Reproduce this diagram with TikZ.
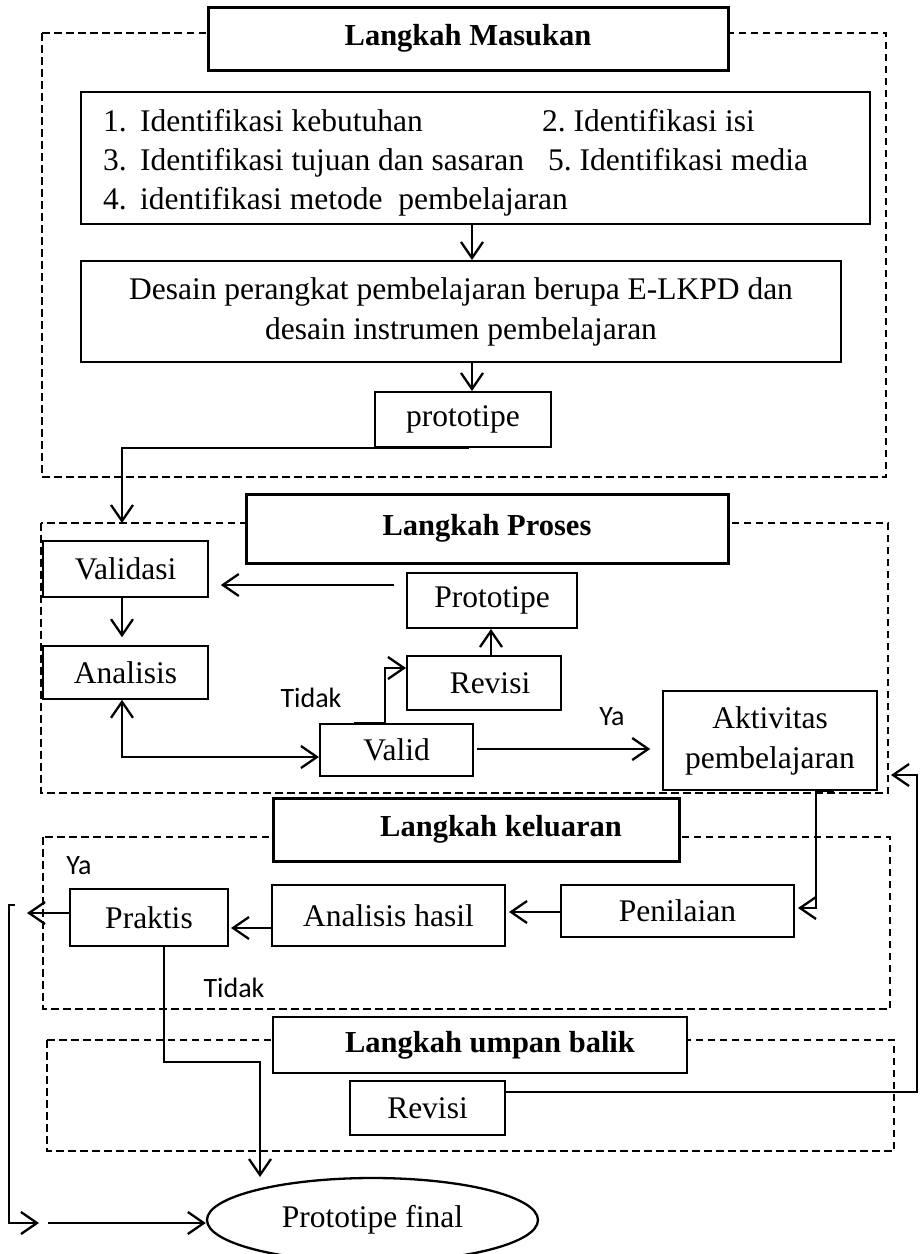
\documentclass[tikz,border=0pt]{standalone}
\usepackage{fontspec}
\setmainfont{Liberation Serif}
\newfontfamily\labelfont{Carlito}
\usetikzlibrary{arrows.meta,shapes.geometric,calc}
\frenchspacing
\tikzset{
  box/.style={draw, line width=2pt, inner sep=0pt, fill=white, align=center},
  titlebox/.style={draw, line width=3pt, inner sep=0pt, fill=white, font=\fontsize{30.5}{40}\selectfont\bfseries},
  frame/.style={draw, line width=2pt, dash pattern=on 7.5pt off 4.5pt},
  tip/.style={Straight Barb[length=16pt,width=22pt,line width=2.3pt]},
  arr/.style={line width=2.3pt, -{Straight Barb[length=16pt,width=22pt,line width=2.3pt]}},
  arrboth/.style={line width=2.3pt, {Straight Barb[length=16pt,width=22pt,line width=2.3pt]}-{Straight Barb[length=16pt,width=22pt,line width=2.3pt]}},
  lab/.style={font=\labelfont\fontsize{28}{32}\selectfont, inner sep=0pt},
  listtxt/.style={anchor=base west, inner sep=0pt},
}
\begin{document}
\begin{tikzpicture}[x=1pt,y=-1pt, font=\fontsize{31.5}{40}\selectfont]
\useasboundingbox (0,0) rectangle (921,1254);
\begin{scope}
\clip (0,0) rectangle (921,1254);

% ---------- Langkah Masukan ----------
\draw[frame] (42,33) rectangle (886,477);
\node[titlebox, minimum width=520, minimum height=63] (tM) at (468,38.5) {Langkah Masukan};
\node[box, minimum width=789, minimum height=132] (list) at (475.5,158) {};
\node[listtxt] (l1) at (103,131) {\makebox[37pt][l]{1.}Identifikasi kebutuhan};
\node[listtxt] (l2) at (103,170) {\makebox[37pt][l]{3.}Identifikasi tujuan dan sasaran};
\node[listtxt] (l3) at (103,209) {\makebox[37pt][l]{4.}identifikasi metode\ \ pembelajaran};
\node[listtxt] (l4) at (542,131) {2. Identifikasi isi};
\node[listtxt] (l5) at (548,170) {5. Identifikasi media};
\node[box, minimum width=760, minimum height=101] (desain) at (461,311.5)
  {Desain perangkat pembelajaran berupa E-LKPD dan\\desain instrumen pembelajaran};
\node[box, minimum width=176, minimum height=55] (proto1) at (463,419.5) {prototipe};

\coordinate (cx1) at (472,0);
\draw[arr] (list.south -| cx1) -- (desain.north -| cx1);
\draw[arr] (desain.south -| cx1) -- (proto1.north -| cx1);

% ---------- Langkah Proses ----------
\draw[frame] (41,523) rectangle (888,793);
\node[titlebox, minimum width=482, minimum height=69] (tP) at (487,528.5) {\raisebox{5pt}{Langkah Proses}};
\coordinate (pin) at (122,523);
\draw[arr] ($(proto1.south west)+(95,0)$) -- (proto1.south west) -- (pin |- proto1.south) -- (pin);

\node[box, line width=1.6pt, minimum width=165, minimum height=56] (validasi) at (125.5,569) {Validasi};
\node[box, line width=1.6pt, minimum width=165, minimum height=53] (analisis) at (125.5,672.5) {Analisis};
\node[box, minimum width=170, minimum height=55] (prototipe) at (492,600.5) {Prototipe};
\node[box, minimum width=154, minimum height=54] (revisi) at (484,683) {\hspace*{12pt}Revisi};
\node[box, minimum width=153, minimum height=52] (valid) at (396.5,750) {Valid};
\node[box, line width=1.5pt, minimum width=214, minimum height=99] (akt) at (770,740.5) {Aktivitas\\pembelajaran};

\coordinate (pv) at (394,585);
\draw[arr] (pv) -- ($(validasi.east |- pv)+(12,0)$);
\draw[arr] (validasi.south -| pin) -- ($(analisis.north -| pin)+(0,-8)$);
\coordinate (rv) at (491,0);
\draw[arr] (revisi.north -| rv) -- (prototipe.south -| rv);
\coordinate (tv) at (385,668);
\draw[arr] ($(valid.north west)+(35,0)$) -- (valid.north -| tv) -- (tv) -- (revisi.west |- tv);
\coordinate (av) at (122,757);
\draw[arrboth] (analisis.south -| av) -- (av) -- (valid.west |- av);
\coordinate (va) at (477,749);
\draw[arr] (va) -- ($(akt.west |- va)+(-12,0)$);
\node[lab] (tidak1) at (311,698) {Tidak};
\node[lab] (ya1) at (612,717) {Ya};

% ---------- Langkah keluaran ----------
\draw[frame] (43,837) rectangle (890,1009);
\node[titlebox, minimum width=406, minimum height=63] (tK) at (476,829.5) {\hspace*{50pt}Langkah keluaran};
\node[box, minimum width=158, minimum height=57] (praktis) at (149,917.5) {Praktis};
\node[box, minimum width=233, minimum height=61] (ahasil) at (388.5,915.5) {Analisis hasil};
\node[box, minimum width=233, minimum height=52] (penilaian) at (677.5,911) {Penilaian};
\node[lab] (ya2) at (79,866) {Ya};
\node[lab] (tidak2) at (234,988) {Tidak};

\coordinate (ap) at (816,908);
\draw[arr] ($(akt.south west)+(172,0)$) -- (akt.south -| ap) -- (ap) -- ($(penilaian.east |- ap)+(3,0)$);
\coordinate (pa) at (552,912);
\draw[arr] (penilaian.west |- pa) -- ($(ahasil.east |- pa)+(3,0)$);
\coordinate (hp) at (272,928);
\draw[arr] (ahasil.west |- hp) -- ($(praktis.east |- hp)+(2,0)$);
\coordinate (pl) at (27,913);
\draw[arr] (praktis.west |- pl) -- (pl);

% ---------- Langkah umpan balik ----------
\draw[frame] (47,1040) rectangle (894,1151);
\node[titlebox, line width=2.6pt, minimum width=414, minimum height=56] (tU) at (480,1045) {\hspace*{20pt}Langkah umpan balik};
\node[box, minimum width=155, minimum height=54] (revisi2) at (427.5,1108) {Revisi};

\node[draw, ellipse, line width=2.3pt, inner sep=0pt, minimum width=331, minimum height=84] (final) at (372.5,1220) {Prototipe final};

\coordinate (pd) at (164,1062);
\coordinate (fd) at (260,1177);
\draw[arr] (praktis.south -| pd) -- (pd) -- (pd -| fd) -- (fd);

\coordinate (rb) at (917,1092);
\coordinate (rt) at (891,775);
\draw[arr] (revisi2.east |- rb) -- (rb) -- (rb |- rt) -- (rt);

\coordinate (ly) at (9,905);
\coordinate (lb) at (9,1223);
\draw[arr] ($(ly)+(6,0)$) -- (ly) -- (lb) -- ($(lb)+(30,0)$);
\draw[arr] ($(lb)+(39,0)$) -- (final.west |- lb);
\end{scope}
\end{tikzpicture}
\end{document}
